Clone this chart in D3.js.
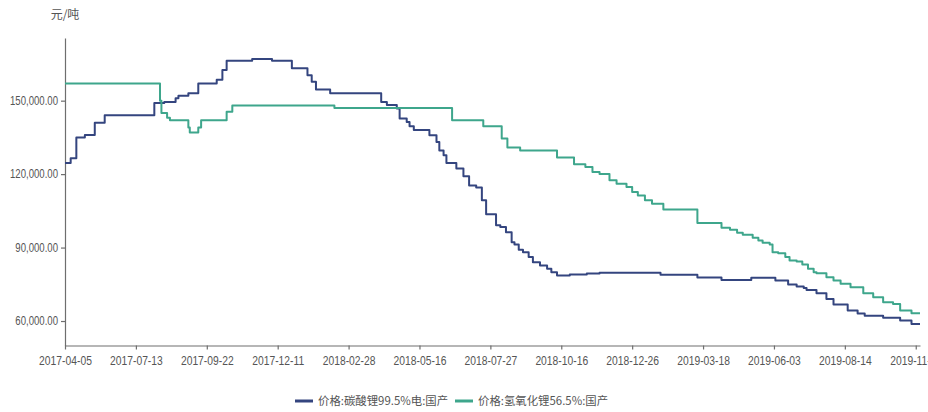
<!DOCTYPE html>
<html><head><meta charset="utf-8">
<script src="https://cdn.jsdelivr.net/npm/d3@7"></script>
<style>body{margin:0;background:#fff}</style>
</head><body><svg id="c" width="928" height="412"></svg>
<script>
// ---------- data ----------
const xTickLabels = ["2017-04-05","2017-07-13","2017-09-22","2017-12-11","2018-02-28","2018-05-16",
  "2018-07-27","2018-10-16","2018-12-26","2019-03-18","2019-06-03","2019-08-14","2019-11-01"];
const tickStep = 50;          // trading days between labelled ticks
const dayCount = 604;         // number of trading days on the category axis
const yTicks = [60000, 90000, 120000, 150000];
const unitLabel = "元/吨";
const seriesNames = ["价格:碳酸锂99.5%电:国产", "价格:氢氧化锂56.5%:国产"];

// 碳酸锂: trading-day index where a price level starts, and that price
const carbonateDays = [0,4,8,14,21,28,63,70,78,80,87,94,107,111,114,132,146,160,171,174,177,187,
  223,227,234,236,241,243,246,257,262,264,267,269,276,281,285,290,294,297,304,307,311,315,317,320,323,327,330,335,340,343,347,
  356,368,377,420,446,463,484,501,510,516,521,523,530,537,542,552,559,564,577,589,597,603];
const carbonatePrices = [124500,126500,135000,136000,141000,144000,149000,149500,151000,152000,153000,157000,158500,162500,166300,167000,166300,163200,160400,157700,154600,153000,
  149500,148200,146800,142700,141300,139600,138000,135900,133100,129700,127700,124500,122300,119100,115400,114500,109300,103600,99100,98400,96300,92200,91300,89100,88100,86100,84000,82700,81300,79900,78600,
  79000,79400,79700,78900,77800,76800,77700,76600,74900,74100,73500,72700,71300,69000,66700,64300,63100,62200,61300,60200,58800,58800];

// 氢氧化锂: trading-day index where a price level starts, and that price
const hydroxideDays = [0,67,68,72,74,87,88,94,96,114,118,190,273,295,308,312,321,347,359,367,372,377,384,389,396,400,404,409,414,422,446,
  463,469,474,478,485,489,492,497,499,503,508,511,516,520,524,528,530,537,542,547,554,563,570,577,584,589,597,603];
const hydroxidePrices = [157000,150000,145000,143000,142000,139000,137000,139000,142000,145500,148000,147000,142000,139600,134500,130900,129700,126800,124000,122900,120900,120000,117500,116100,114700,112700,111300,109300,107900,105500,100000,
  98100,97300,96100,95200,94000,92900,92000,91300,88100,87700,86100,84700,84300,83100,81300,79900,79500,77900,76500,75200,73800,71300,69700,67700,67000,64300,63200,63200];

// ---------- styles ----------
const colors = ["#34457f", "#3ea68c"];
const font = "'Liberation Sans',Arial,sans-serif";
const cjkFont = "'Noto Sans CJK SC','Noto Sans',sans-serif";
const axisColor = "#6e6e6e";
const textColor = "#555";

const svg = d3.select("#c");
const x = d3.scaleLinear().domain([0, dayCount - 1]).range([65, 920]);
const y = d3.scaleLinear().domain([50000, 175600]).range([345.5, 38]);

// y axis
const ya = svg.append("g").attr("transform", "translate(65,0)")
  .call(d3.axisLeft(y).tickValues(yTicks).tickFormat(d3.format(",.2f")).tickSize(4).tickPadding(3).tickSizeOuter(0));
// x axis
const xa = svg.append("g").attr("transform", "translate(0,345.5)")
  .call(d3.axisBottom(x).tickValues(d3.range(0, dayCount, tickStep)).tickFormat((d, i) => xTickLabels[i])
    .tickSize(4).tickPadding(7).tickSizeOuter(0));
[ya, xa].forEach(g => {
  g.select(".domain").attr("stroke", axisColor).attr("stroke-width", 1.2);
  g.selectAll(".tick line").attr("stroke", axisColor).attr("stroke-width", 1.2);
  g.selectAll(".tick text").attr("fill", textColor).style("font-family", font).style("font-size", "12px");
});
xa.selectAll(".tick text").attr("transform", "scale(0.86,1)");
ya.selectAll(".tick text").attr("x", -7 / 0.8).attr("transform", "scale(0.8,1)");

svg.append("text").attr("x", 65).attr("y", 19).attr("text-anchor", "middle")
  .attr("fill", textColor).style("font-family", cjkFont).style("font-size", "12px").text(unitLabel);

// lines (prices hold until the next change)
const line = d3.line().x(d => x(d[0])).y(d => y(d[1])).curve(d3.curveStepAfter);
const series = [
  d3.zip(carbonateDays, carbonatePrices),
  d3.zip(hydroxideDays, hydroxidePrices)
];
series.forEach((s, k) => {
  svg.append("path").datum(s).attr("d", line).attr("fill", "none")
    .attr("stroke", colors[k]).attr("stroke-width", 2).attr("stroke-linejoin", "round");
});

// legend
const legendX = [295, 455];
seriesNames.forEach((n, k) => {
  const g = svg.append("g").attr("transform", `translate(${legendX[k]},401)`);
  g.append("line").attr("x1", 0).attr("x2", 18).attr("stroke", colors[k]).attr("stroke-width", 3);
  g.append("text").attr("x", 23).attr("dy", "0.35em").attr("fill", textColor)
    .style("font-family", cjkFont).style("font-size", "11.4px").text(n);
});
</script></body></html>
